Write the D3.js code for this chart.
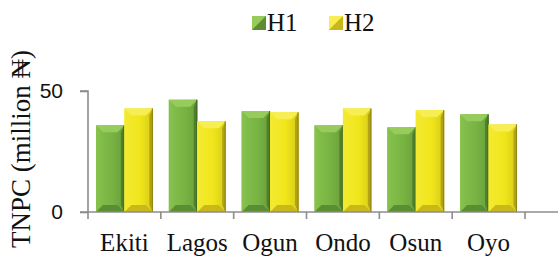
<!DOCTYPE html>
<html>
<head>
<meta charset="utf-8">
<script src="https://cdn.jsdelivr.net/npm/d3@7"></script>
<style>
	body { margin: 0; background: #fff; }
	svg { display: block; }
</style>
</head>
<body>
<div id="chart"></div>
<script>
// data
const states = ['Ekiti', 'Lagos', 'Ogun', 'Ondo', 'Osun', 'Oyo'];
const seriesNames = ['H1', 'H2'];
const h1Values = [35.8, 46.4, 41.7, 35.8, 35.0, 40.4];
const h2Values = [42.8, 37.5, 41.2, 42.8, 42.1, 36.2];
const yTicks = [0, 50];

const WIDTH = 558;
const HEIGHT = 257;
const marginLeft = 88;
const marginTop = 91;
const plotW = 437;
const plotH = 121;

// colour sets for the bevelled bars
const palette = {
	H1: { main: '#78b443', top: '#97cc5c', left: '#86c14e', right: '#4f7f2b', bottom: '#5b8d33', edge: '#3f6a22' },
	H2: { main: '#f1e61b', top: '#f6ee52', left: '#f3ea30', right: '#b2a315', bottom: '#c8b81c', edge: '#8f8312' }
};

const rows = states.map((s, i) => ({ state: s, H1: h1Values[i], H2: h2Values[i] }));

const $svg = d3.select('#chart').append('svg')
	.attr('width', WIDTH)
	.attr('height', HEIGHT);

const scaleX = d3.scaleBand().domain(states).range([marginLeft, marginLeft + plotW]).paddingInner(0).paddingOuter(0);
const scaleSeries = d3.scaleBand().domain(seriesNames).range([8, scaleX.bandwidth() - 8]);
const scaleY = d3.scaleLinear().domain([0, 50]).range([marginTop + plotH, marginTop]);

// gradients for main faces
const $defs = $svg.append('defs');
seriesNames.forEach(name => {
	const c = palette[name];
	const g = $defs.append('linearGradient').attr('id', `grad-${name}`).attr('x1', 0).attr('x2', 1).attr('y1', 0).attr('y2', 0);
	g.append('stop').attr('offset', '0%').attr('stop-color', c.left);
	g.append('stop').attr('offset', '55%').attr('stop-color', c.main);
	g.append('stop').attr('offset', '100%').attr('stop-color', d3.color(c.main).darker(0.35));
});

function bevelBar($g, x, y, w, h, c, gradId) {
	const d = Math.min(7, h / 2, w / 2);
	const x0 = x, x1 = x + w, y0 = y, y1 = y + h;
	$g.append('rect').attr('x', x0).attr('y', y0).attr('width', w).attr('height', h).attr('fill', `url(#${gradId})`);
	const face = (pts, fill) => $g.append('polygon').attr('points', pts.map(p => p.join(',')).join(' ')).attr('fill', fill);
	face([[x0, y0], [x1, y0], [x1 - d, y0 + d], [x0 + d, y0 + d]], c.top);
	face([[x0, y1], [x1, y1], [x1 - d, y1 - d], [x0 + d, y1 - d]], c.bottom);
	face([[x0, y0], [x0 + d * 0.5, y0 + d], [x0 + d * 0.5, y1 - d], [x0, y1]], c.left);
	face([[x1, y0], [x1 - d * 0.5, y0 + d], [x1 - d * 0.5, y1 - d], [x1, y1]], c.right);
	$g.append('rect').attr('x', x1 - 1).attr('y', y0).attr('width', 1).attr('height', h).attr('fill', c.edge);
}

// bars
const $bars = $svg.append('g').attr('class', 'bars');
rows.forEach(r => {
	seriesNames.forEach(name => {
		const x = scaleX(r.state) + scaleSeries(name);
		const y = scaleY(r[name]);
		bevelBar($bars, x, y, scaleSeries.bandwidth(), scaleY(0) - y, palette[name], `grad-${name}`);
	});
});

// axes
const axisColor = '#8c8c8c';
const $axisY = $svg.append('g')
	.attr('transform', `translate(${marginLeft}, 0)`)
	.call(d3.axisLeft(scaleY).tickValues(yTicks).tickSize(8).tickPadding(17));
$axisY.select('.domain').attr('d', `M-8,${scaleY(50)}H0V${scaleY(0)}`);

const $axisX = $svg.append('g')
	.attr('transform', `translate(0, ${scaleY(0)})`);
$axisX.append('line')
	.attr('x1', marginLeft - 8).attr('x2', WIDTH)
	.attr('y1', 0).attr('y2', 0);
const xTickPos = states.map(s => scaleX(s)).concat([marginLeft + plotW]);
$axisX.selectAll('line.tick')
	.data(xTickPos)
	.enter().append('line')
	.attr('class', 'tick')
	.attr('x1', d => d).attr('x2', d => d)
	.attr('y1', 0).attr('y2', 7);
$axisX.selectAll('line').attr('stroke', axisColor).attr('stroke-width', 1.6);

$axisX.selectAll('text')
	.data(states)
	.enter().append('text')
	.attr('x', d => scaleX(d) + scaleX.bandwidth() / 2)
	.attr('y', 39)
	.attr('text-anchor', 'middle')
	.attr('font-family', '"Liberation Serif", "Times New Roman", serif')
	.attr('font-size', 25)
	.attr('fill', '#111')
	.text(d => d);

$axisY.selectAll('.domain, .tick line').attr('stroke', axisColor).attr('stroke-width', 1.6);
$axisY.selectAll('.tick text')
	.attr('font-family', '"Liberation Sans", Arial, sans-serif')
	.attr('font-size', 21)
	.attr('fill', '#111');

// y title
$svg.append('text')
	.attr('transform', `translate(30, 149) rotate(-90)`)
	.attr('text-anchor', 'middle')
	.attr('font-family', '"Liberation Serif", "Times New Roman", serif')
	.attr('font-size', 27)
	.attr('fill', '#111')
	.text('TNPC (million ₦)');

// legend
const legendX = [252, 329];
const $legend = $svg.append('g');
seriesNames.forEach((name, i) => {
	const c = palette[name];
	const x = legendX[i], y = 16, s = 14;
	const $item = $legend.append('g');
	$item.append('rect').attr('x', x).attr('y', y).attr('width', s).attr('height', s).attr('fill', c.main);
	$item.append('polygon').attr('points', `${x},${y} ${x + s},${y} ${x},${y + s}`).attr('fill', c.top);
	$item.append('polygon').attr('points', `${x + s},${y} ${x + s},${y + s} ${x},${y + s}`).attr('fill', c.bottom);
	$item.append('text')
		.attr('x', x + s + 1)
		.attr('y', y + s + 1)
		.attr('font-family', '"Liberation Serif", "Times New Roman", serif')
		.attr('font-size', 25)
		.attr('fill', '#111')
		.text(name);
});
</script>
</body>
</html>
